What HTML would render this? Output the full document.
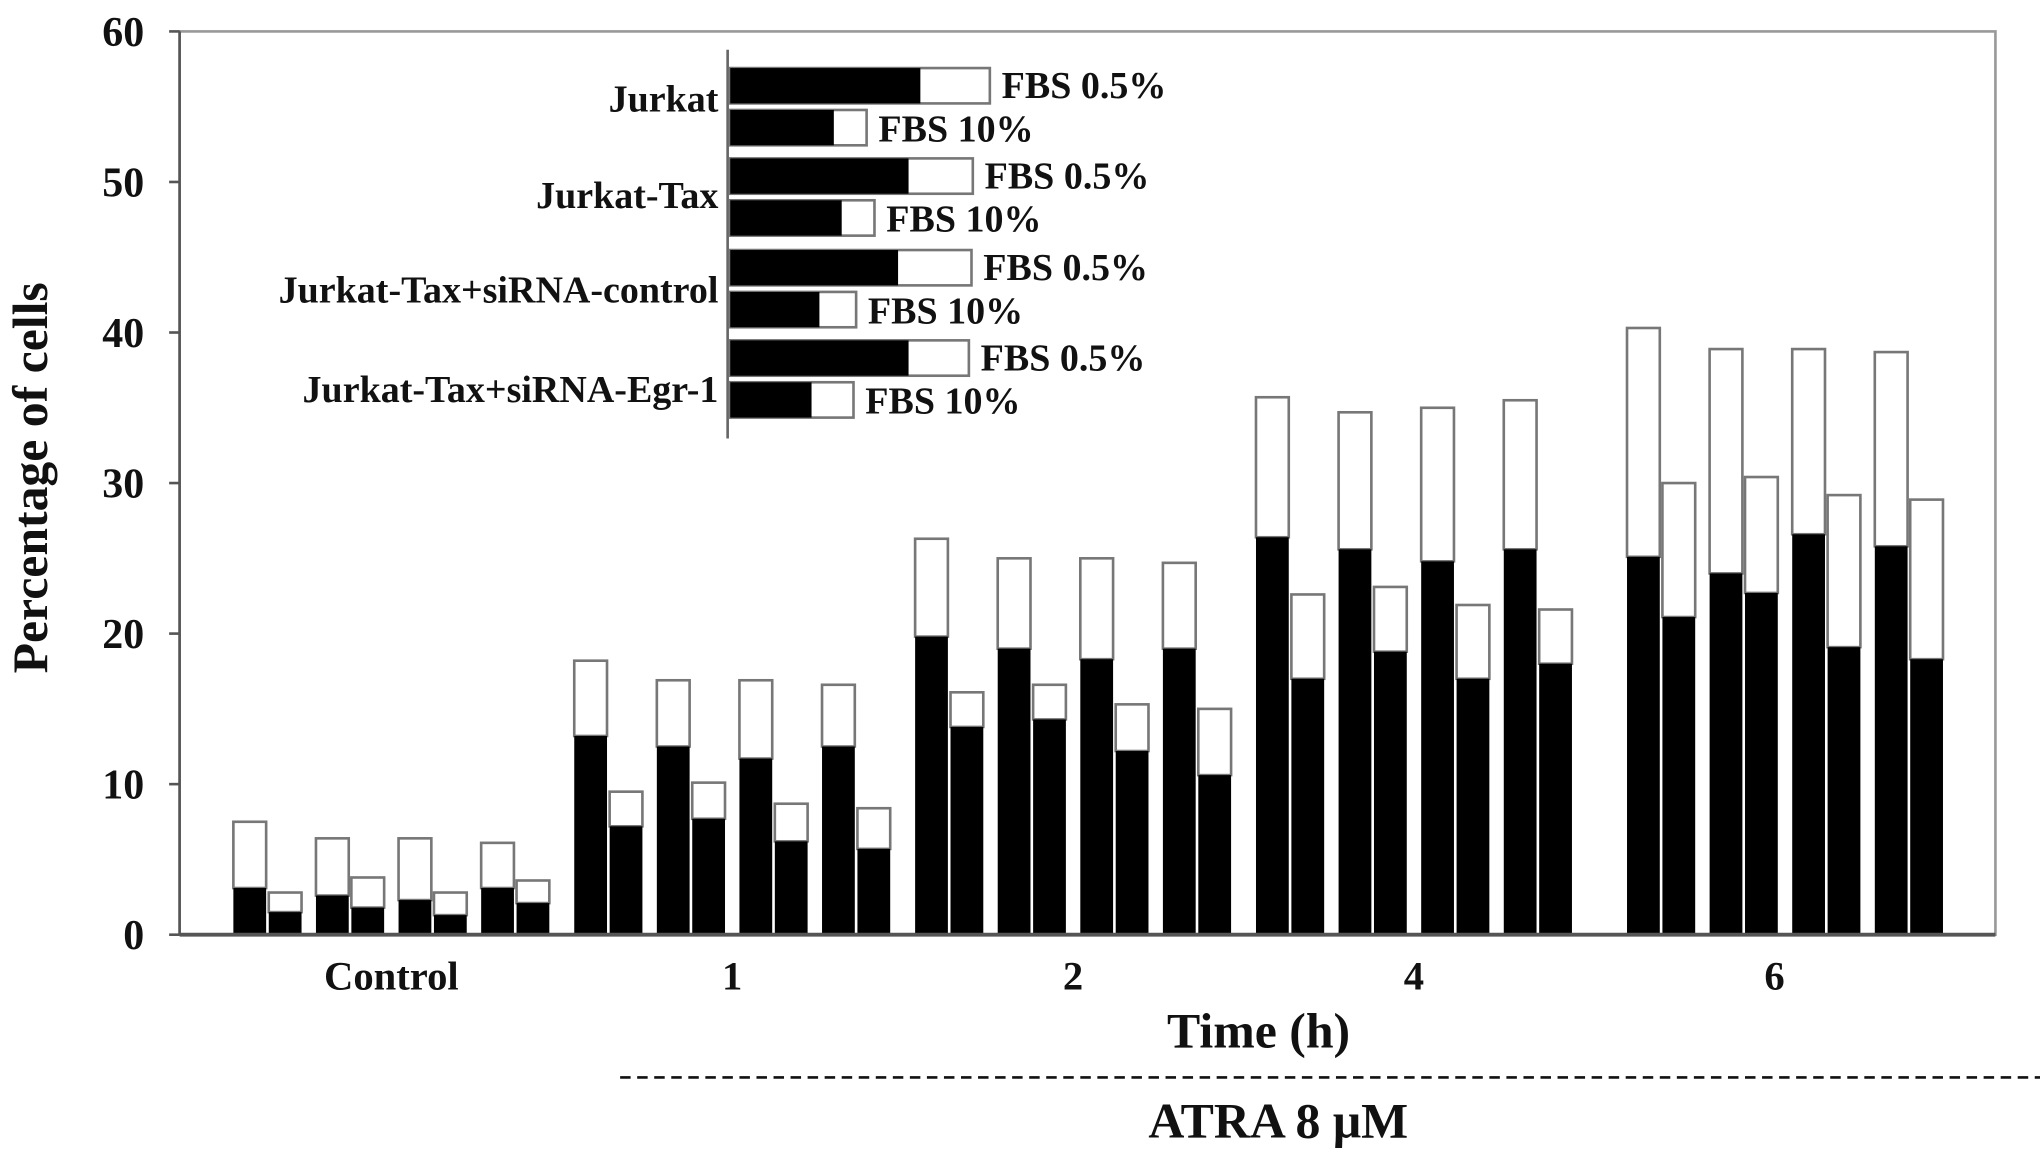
<!DOCTYPE html>
<html><head><meta charset="utf-8"><style>
html,body{margin:0;padding:0;background:#fff;}
svg{display:block;}
text{font-family:"Liberation Serif",serif;font-weight:bold;fill:#111;}
</style></head><body>
<svg id="chart" width="2040" height="1152" viewBox="0 0 1556 880" preserveAspectRatio="none" xmlns="http://www.w3.org/2000/svg">
<rect x="137" y="24" width="1385" height="690" fill="#fff" stroke="#999" stroke-width="2"/>
<g id="bars"></g>
<g id="axes"></g>
<g id="legend"></g>
<text x="27" y="365" transform="rotate(-90 27 365)" text-anchor="middle" dominant-baseline="middle" font-size="38">Percentage of cells</text>
<text x="960" y="800" text-anchor="middle" font-size="38">Time (h)</text>
<line x1="473" y1="823" x2="1556" y2="823" stroke="#111" stroke-width="2" stroke-dasharray="8,5"/>
<text x="975" y="869" text-anchor="middle" font-size="38">ATRA 8 μM</text>
</svg>
<script>
const categories = ["Control","1","2","4","6"];
const blackValues = [
 [3.1,1.5,2.6,1.8,2.3,1.3,3.1,2.1],
 [13.2,7.2,12.5,7.7,11.7,6.2,12.5,5.7],
 [19.8,13.8,19.0,14.3,18.3,12.2,19.0,10.6],
 [26.4,17.0,25.6,18.8,24.8,17.0,25.6,18.0],
 [25.1,21.1,24.0,22.7,26.6,19.1,25.8,18.3]
];
const totalValues = [
 [7.5,2.8,6.4,3.8,6.4,2.8,6.1,3.6],
 [18.2,9.5,16.9,10.1,16.9,8.7,16.6,8.4],
 [26.3,16.1,25.0,16.6,25.0,15.3,24.7,15.0],
 [35.7,22.6,34.7,23.1,35.0,21.9,35.5,21.6],
 [40.3,30.0,38.9,30.4,38.9,29.2,38.7,28.9]
];
const yTicks = [0,10,20,30,40,50,60];
const legendGroups = ["Jurkat","Jurkat-Tax","Jurkat-Tax+siRNA-control","Jurkat-Tax+siRNA-Egr-1"];
const legendBlack = [[145,79],[136,85],[128,68],[136,62]];
const legendTotal = [[198,104],[185,110],[184,96],[182,94]];
const legendLabels = ["FBS 0.5%","FBS 10%"];

const NS="http://www.w3.org/2000/svg";
function mk(tag,attrs,parent){const e=document.createElementNS(NS,tag);for(const k in attrs)e.setAttribute(k,attrs[k]);parent.appendChild(e);return e;}
const y0=714, pxPer=11.5;
function yScale(v){return y0 - v*pxPer;}
function groupStart(i){return 178 + i*260 + (i===4?23:0);}
function barX(g,j){return groupStart(g) + Math.floor(j/2)*63 + (j%2)*27;}
const bw=25;
const bars=document.getElementById('bars');
blackValues.forEach((grp,g)=>{grp.forEach((b,j)=>{
  const t=totalValues[g][j];
  const x=barX(g,j);
  const w=mk('rect',{x:x,y:yScale(t),width:bw,height:yScale(b)-yScale(t),fill:'#fff',stroke:'#777','stroke-width':2},bars);
  
  
  const k=mk('rect',{x:x,y:yScale(b),width:bw,height:y0-yScale(b),fill:'#000'},bars);
  
  
});});
const axes=document.getElementById('axes');
const ya=mk('line',{x1:137,y1:24,x2:137,y2:714,stroke:'#555','stroke-width':2},axes);


const xa=mk('line',{x1:137,y1:714,x2:1522,y2:714,stroke:'#555','stroke-width':3},axes);


yTicks.forEach(v=>{
  const tk=mk('line',{x1:129,y1:yScale(v),x2:137,y2:yScale(v),stroke:'#555','stroke-width':2},axes);
  
  
  const t=mk('text',{x:110,y:yScale(v)+11,'text-anchor':'end','font-size':32},axes);
  t.textContent=v;
  
  
});
categories.forEach((c,i)=>{
  const cx=(barX(i,0)+barX(i,7)+bw)/2 + (i===4?-8:0);
  const t=mk('text',{x:cx,y:756,'text-anchor':'middle','font-size':31},axes);
  t.textContent=c;
  
  
});
const lg=document.getElementById('legend');
const vl=mk('line',{x1:555,y1:38,x2:555,y2:335,stroke:'#666','stroke-width':2},lg);


const lx=557, rowTop=[[52,84],[121,153],[191,223],[260,292]], rh=27, groupY=[85,159,231,307];
legendGroups.forEach((g,i)=>{
  const t=mk('text',{x:548,y:groupY[i],'text-anchor':'end','font-size':29},lg);
  t.textContent=g;
  
  
  [0,1].forEach(r=>{
    const yy=rowTop[i][r];
    const w=mk('rect',{x:lx,y:yy,width:legendTotal[i][r],height:rh,fill:'#fff',stroke:'#777','stroke-width':2},lg);
    
    
    const k=mk('rect',{x:lx,y:yy,width:legendBlack[i][r],height:rh,fill:'#000'},lg);
    
    
    const lt=mk('text',{x:lx+legendTotal[i][r]+9,y:yy+rh-4+(r?1:0),'font-size':29},lg);
    lt.textContent=legendLabels[r];
    
    
  });
});
</script>
</body></html>
